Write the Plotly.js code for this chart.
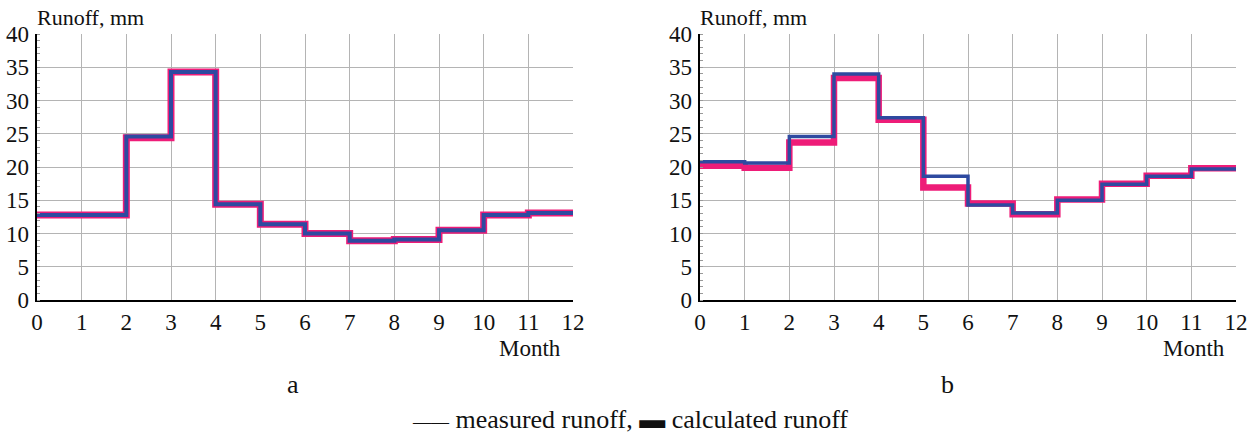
<!DOCTYPE html>
<html>
<head>
<meta charset="utf-8">
<script src="https://cdn.plot.ly/plotly-3.0.1.min.js"></script>
<style>
html,body{margin:0;padding:0;background:#fff;}
#chart{width:1254px;height:433px;}
#chart svg text{font-family:'Liberation Serif', serif !important;}
</style>
</head>
<body>
<div id="chart"></div>
<script>
// Month boundaries (steps)
const months = [0,1,2,3,4,5,6,7,8,9,10,11,12];
// Panel a: monthly runoff (mm) for months 1..12
const measuredA   = [12.8,12.8,24.6,34.3,14.4,11.4,10.0,8.9,9.1,10.5,12.8,13.1];
const calculatedA = [12.8,12.8,24.4,34.3,14.4,11.4,10.0,8.9,9.1,10.5,12.8,13.1];
// Panel b
const measuredB   = [20.8,20.6,24.6,34.0,27.4,18.6,14.3,13.1,15.0,17.4,18.6,19.7];
const calculatedB = [20.2,19.9,23.7,33.4,27.1,16.9,14.5,12.9,15.1,17.5,18.7,19.8];
const xTicks = [0,1,2,3,4,5,6,7,8,9,10,11,12];
const yTicks = [0,5,10,15,20,25,30,35,40];

const PINK = '#ee1c78';
const BLUE = '#2e4aa0';
const stepY = v => v.concat([v[v.length-1]]);

function step(vals, color, width, xa, ya){
  return {x: months, y: stepY(vals), mode:'lines', line:{shape:'hv', color:color, width:width},
          xaxis:xa, yaxis:ya, showlegend:false, hoverinfo:'skip'};
}

const data = [
  step(calculatedA, PINK, 7, 'x', 'y'),
  step(measuredA, BLUE, 4, 'x', 'y'),
  step(calculatedB, PINK, 6.5, 'x2', 'y2'),
  step(measuredB, BLUE, 3.5, 'x2', 'y2')
];

const W = 1254, H = 433;
const px = v => v / W;
const py = v => 1 - v / H;
const FAM = 'Liberation Serif';

function xaxis(domain, anchor){
  return {domain: domain, anchor: anchor, range:[0,12], tickvals: xTicks, ticktext: xTicks.map(String),
          showgrid:true, gridcolor:'#b4b4b4', gridwidth:1, zeroline:false,
          showline:true, linecolor:'#000', linewidth:2, ticks:'',
          tickfont:{size:23, family:FAM, color:'#111'}, fixedrange:true};
}
function yaxis(anchor){
  return {domain:[py(300), py(34)], anchor: anchor, range:[0,40], tickvals: yTicks, ticktext: yTicks.map(String),
          showgrid:true, gridcolor:'#b4b4b4', gridwidth:1, zeroline:false,
          showline:true, linecolor:'#000', linewidth:2.5, ticks:'', ticklabelstandoff:1,
          minor:{ticks:'inside', ticklen:3, dtick:1, tickcolor:'#999', tickwidth:1, showgrid:false},
          tickfont:{size:23, family:FAM, color:'#111'}, fixedrange:true};
}

function ann(text, x, y, size, xanchor){
  return {text:text, x:px(x), y:py(y), xref:'paper', yref:'paper', showarrow:false,
          xanchor:xanchor||'center', yanchor:'middle', font:{size:size, family:FAM, color:'#111'}};
}

const layout = {
  width: W, height: H,
  margin:{l:0,r:0,t:0,b:0},
  paper_bgcolor:'#fff', plot_bgcolor:'#fff',
  font: {family: FAM, color:'#111'},
  xaxis: xaxis([px(37), px(573)], 'y'),
  yaxis: yaxis('x'),
  xaxis2: xaxis([px(700), px(1236)], 'y2'),
  yaxis2: yaxis('x2'),
  annotations:[
    ann('Runoff, mm', 35, 17, 22, 'left'),
    ann('Runoff, mm', 698, 17, 22, 'left'),
    ann('Month', 563, 348, 23, 'right'),
    ann('Month', 1227, 348, 23, 'right'),
    ann('a', 293, 384, 26),
    ann('b', 948, 384, 26),
    ann('<span style="font-size:18px">——</span> measured runoff, <b>▬</b> calculated runoff', 630, 419, 26)
  ]
};

Plotly.newPlot('chart', data, layout, {displayModeBar:false, staticPlot:true});
</script>
</body>
</html>
